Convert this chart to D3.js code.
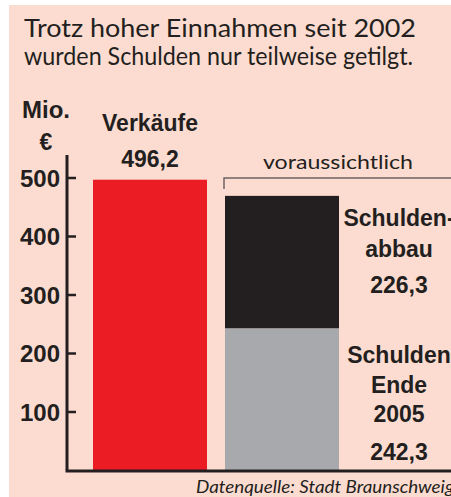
<!DOCTYPE html>
<html>
<head>
<meta charset="utf-8">
<script src="https://cdn.jsdelivr.net/npm/d3@7"></script>
<style>
  body { margin: 0; background: #fff; }
</style>
</head>
<body>
<div id="chart"></div>
<script>
// chart data
const categories = ["Verkäufe", "voraussichtlich"]
const sales = [496.2]
const debtEnd = [242.3]
const debtPaid = [226.3]
const tickValues = [100, 200, 300, 400, 500]

const width = 451
const height = 497

const svg = d3.select("#chart")
  .append("svg")
    .attr("width", width)
    .attr("height", height)

// pink panel
svg.append("rect")
  .attr("x", 9).attr("y", 5)
  .attr("width", width - 9).attr("height", height - 5)
  .attr("fill", "#fcdcd0")

const ink = "#231f20"
const bold = "'Liberation Sans', Arial, sans-serif"
const light = "Lato, 'Open Sans', sans-serif"

// title
const titleLines = ["Trotz hoher Einnahmen seit 2002", "wurden Schulden nur teilweise getilgt."]
svg.selectAll(".title")
  .data(titleLines)
  .join("text")
    .attr("class", "title")
    .attr("x", 24)
    .attr("y", (d, i) => 37 + i * 28)
    .attr("textLength", (d, i) => i == 0 ? 392 : 389)
    .attr("lengthAdjust", "spacingAndGlyphs")
    .style("font-family", light)
    .style("font-size", "25px")
    .style("fill", ink)
    .text(d => d)

// scales
const y = d3.scaleLinear().domain([0, 500]).range([470, 177.5])
const x = d3.scaleBand()
  .domain(categories)
  .range([93, 339])
  .paddingInner(18 / 132)

// bars
svg.append("rect")
  .attr("x", x(categories[0]))
  .attr("y", y(sales[0]))
  .attr("width", x.bandwidth())
  .attr("height", y(0) - y(sales[0]))
  .attr("fill", "#ec1c24")

const stack = [
  { v0: 0, v1: debtEnd[0], color: "#a7a9ac" },
  { v0: debtEnd[0], v1: debtEnd[0] + debtPaid[0], color: "#231f20" }
]
svg.selectAll(".seg")
  .data(stack)
  .join("rect")
    .attr("class", "seg")
    .attr("x", x(categories[1]))
    .attr("y", d => y(d.v1))
    .attr("width", x.bandwidth())
    .attr("height", d => y(d.v0) - y(d.v1))
    .attr("fill", d => d.color)

// y axis
const axis = svg.append("g")
  .attr("transform", "translate(67,0)")
  .call(d3.axisLeft(y).tickValues(tickValues).tickSize(-9).tickPadding(7))
axis.select(".domain").remove()
axis.selectAll(".tick line").attr("stroke", ink).attr("stroke-width", 2.5)
axis.selectAll(".tick text")
  .attr("dy", "0.36em")
  .style("font-family", bold)
  .style("font-weight", "bold")
  .style("font-size", "24px")
  .style("fill", ink)

svg.append("line")
  .attr("x1", 67).attr("x2", 67)
  .attr("y1", 155).attr("y2", y(0))
  .attr("stroke", ink).attr("stroke-width", 3)
svg.append("line")
  .attr("x1", 65.5).attr("x2", width)
  .attr("y1", y(0) + 1).attr("y2", y(0) + 1)
  .attr("stroke", ink).attr("stroke-width", 3)

// unit
svg.append("text")
  .attr("x", 46).attr("y", 118)
  .attr("text-anchor", "middle")
  .style("font-family", bold).style("font-weight", "bold")
  .style("font-size", "24px").style("fill", ink)
  .text("Mio.")
svg.append("text")
  .attr("x", 46).attr("y", 150)
  .attr("text-anchor", "middle")
  .style("font-family", bold).style("font-weight", "bold")
  .style("font-size", "23px").style("fill", ink)
  .text("€")

// label for the sales bar
const cx0 = x(categories[0]) + x.bandwidth() / 2
svg.append("text")
  .attr("x", cx0).attr("y", 131)
  .attr("text-anchor", "middle")
  .style("font-family", bold).style("font-weight", "bold")
  .style("font-size", "23px").style("fill", ink)
  .text(categories[0])
svg.append("text")
  .attr("x", cx0).attr("y", 167)
  .attr("text-anchor", "middle")
  .style("font-family", bold).style("font-weight", "bold")
  .style("font-size", "23px").style("fill", ink)
  .text(d3.format(".1f")(sales[0]).replace(".", ","))

// bracket over forecast bar
const bx = x(categories[1]) - 1
svg.append("path")
  .attr("d", `M${bx},${189}V${178}H${width}`)
  .attr("fill", "none")
  .attr("stroke", "#6d6262")
  .attr("stroke-width", 1.5)
svg.append("text")
  .attr("x", 338).attr("y", 169)
  .attr("text-anchor", "middle")
  .attr("textLength", 150)
  .attr("lengthAdjust", "spacingAndGlyphs")
  .style("font-family", light)
  .style("font-size", "19px").style("fill", ink)
  .text(categories[1])

// right side labels
const fmt = v => d3.format(".1f")(v).replace(".", ",")
const sideLabels = [
  { t: "Schulden-", y: 226 },
  { t: "abbau", y: 257 },
  { t: fmt(debtPaid[0]), y: 293 },
  { t: "Schulden", y: 363 },
  { t: "Ende", y: 393 },
  { t: "2005", y: 422 },
  { t: fmt(debtEnd[0]), y: 460 }
]
svg.selectAll(".side")
  .data(sideLabels)
  .join("text")
    .attr("class", "side")
    .attr("x", 399)
    .attr("y", d => d.y)
    .attr("text-anchor", "middle")
    .style("font-family", bold).style("font-weight", "bold")
    .style("font-size", "23px").style("fill", ink)
    .text(d => d.t)

// source
svg.append("text")
  .attr("x", 196).attr("y", 493)
  .attr("textLength", 258)
  .attr("lengthAdjust", "spacingAndGlyphs")
  .style("font-family", light)
  .style("font-style", "italic")
  .style("font-size", "18px").style("fill", ink)
  .text("Datenquelle: Stadt Braunschweig")
</script>
</body>
</html>
